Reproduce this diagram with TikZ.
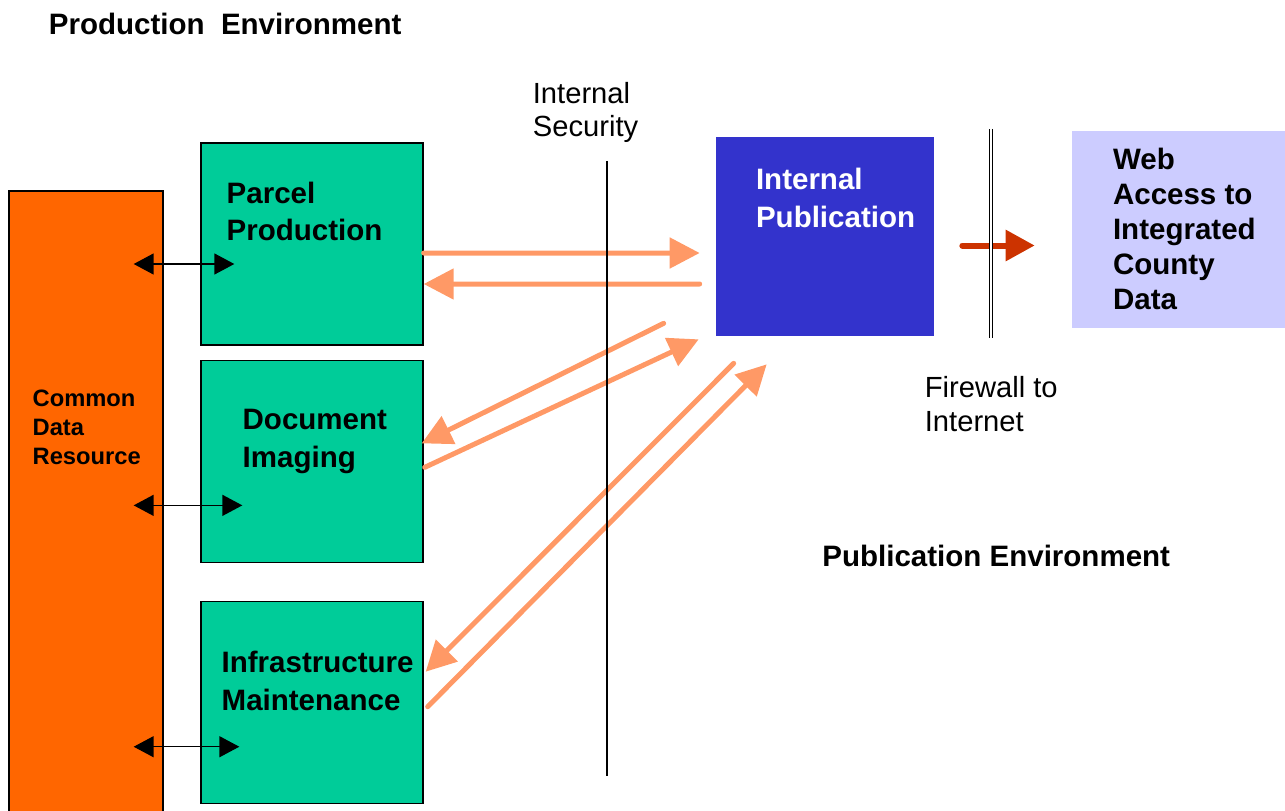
\documentclass[tikz,border=0pt]{standalone}
\usepackage{fontspec}
\setmainfont{Liberation Sans}
\usepackage{tikz}
\usetikzlibrary{arrows.meta,positioning,calc}
\definecolor{cdrorange}{HTML}{FF6600}
\definecolor{prodgreen}{HTML}{00CC99}
\definecolor{pubblue}{HTML}{3333CC}
\definecolor{weblilac}{HTML}{CCCCFF}
\definecolor{flowsalmon}{HTML}{FF9966}
\definecolor{fwred}{HTML}{CC3300}
\tikzstyle{RECTANGLE_CDR} = [rectangle, draw=black, fill=cdrorange, line width=0.8pt, minimum width=3.08cm, minimum height=12.8cm]
\tikzstyle{RECTANGLE_PROD} = [rectangle, draw=black, fill=prodgreen, line width=0.8pt, minimum width=4.44cm, minimum height=4.04cm]
\tikzstyle{RECTANGLE_PUB} = [rectangle, fill=pubblue, minimum width=4.36cm, minimum height=3.98cm]
\tikzstyle{RECTANGLE_WEB} = [rectangle, fill=weblilac, minimum width=4.36cm, minimum height=3.94cm]
\tikzstyle{LABEL} = [anchor=north west, inner sep=0pt, align=left, font=\fontsize{16.8}{21.5}\selectfont\bfseries]
\tikzstyle{LABEL_PLAIN} = [anchor=north west, inner sep=0pt, align=left, font=\fontsize{16.6}{19}\selectfont]
\tikzstyle{FLOW} = [draw=flowsalmon, line width=0.1cm, line cap=round, -{Triangle[length=0.6cm,width=0.6cm]}]
\tikzstyle{FIREWALL_ARROW} = [draw=fwred, line width=0.12cm, line cap=round, -{Triangle[length=0.58cm,width=0.6cm]}]
\tikzstyle{LINK} = [draw, line width=0.8pt, {Triangle[length=0.4cm,width=0.42cm]}-{Triangle[length=0.4cm,width=0.42cm]}]
\tikzstyle{WALL} = [draw, line width=0.8pt]

\begin{document}
\begin{tikzpicture}[x=0.02cm, y=-0.02cm]
\clip (0,0) rectangle (1285,811);
% Place nodes
\node [RECTANGLE_CDR] (cdr) at (86,511) {};
\node [RECTANGLE_PROD] (parcel) at (312,244) {};
\node [RECTANGLE_PROD, below=0.28cm of parcel] (docimg) {};
\node [RECTANGLE_PROD, below=0.76cm of docimg] (infra) {};
\node [RECTANGLE_PUB] (pub) at (825,236.5) {};
\node [RECTANGLE_WEB] (web) at (1181,229.5) {};
% Texts
\node [LABEL] (title_prod) at (48.5,12.5) {Production\ \ Environment};
\node [LABEL_PLAIN] (title_sec) at (532.5,82) {Internal\\Security};
\node [LABEL, font=\fontsize{13.5}{16.4}\selectfont\bfseries] (cdr_t) at ($(cdr.north west)+(24,199.5)$) {Common\\Data\\Resource};
\node [LABEL] (parcel_t) at ($(parcel.north west)+(26,39)$) {Parcel\\Production};
\node [LABEL] (docimg_t) at ($(docimg.north west)+(42,49.5)$) {Document\\Imaging};
\node [LABEL] (infra_t) at ($(infra.north west)+(21,49.5)$) {Infrastructure\\Maintenance};
\node [LABEL, text=white] (pub_t) at ($(pub.north west)+(40,31.5)$) {Internal\\Publication};
\node [LABEL, font=\fontsize{16.8}{19.8}\selectfont\bfseries] (web_t) at ($(web.north west)+(41,17.5)$) {Web\\Access to\\Integrated\\County\\Data};
\node [LABEL_PLAIN] (title_fw) at (924.5,376.5) {Firewall to\\Internet};
\node [LABEL] (title_pub) at (822,544.5) {Publication Environment};
% LINES and ARROWS
\path [FLOW] ($(parcel.east)+(0,9)$) -- ($(pub.west)+(-16,16.5)$);
\path [FLOW] ($(pub.west)+(-16,47.5)$) -- ($(parcel.east)+(0,40)$);
\path [FLOW] ($(pub.south west)+(-52,-13)$) -- ($(docimg.east)+(-2,-18)$);
\path [FLOW] ($(docimg.east)+(1,6)$) -- ($(pub.south west)+(-17,3)$);
\path [FLOW] ($(pub.south west)+(18,27)$) -- ($(infra.east)+(2,-31)$);
\path [FLOW] ($(infra.east)+(4,4)$) -- ($(pub.south west)+(51,28)$);
\path [LINK] ($(cdr.east |- parcel.center)+(-30,20)$) -- ($(parcel.west)+(34,20)$);
\path [LINK] ($(cdr.east |- docimg.center)+(-30,44)$) -- ($(docimg.west)+(42,44)$);
\path [LINK] ($(cdr.east |- infra.center)+(-30,44)$) -- ($(infra.west)+(39,44)$);
\path [FIREWALL_ARROW] ($(pub.east)+(28,9)$) -- ($(web.west)+(-37,16)$);
\path [WALL] (607,161) -- (607,776);
\path [WALL, double, double distance=0.046cm, line width=0.7pt] (991,129) -- (991,338);
\end{tikzpicture}
\end{document}
